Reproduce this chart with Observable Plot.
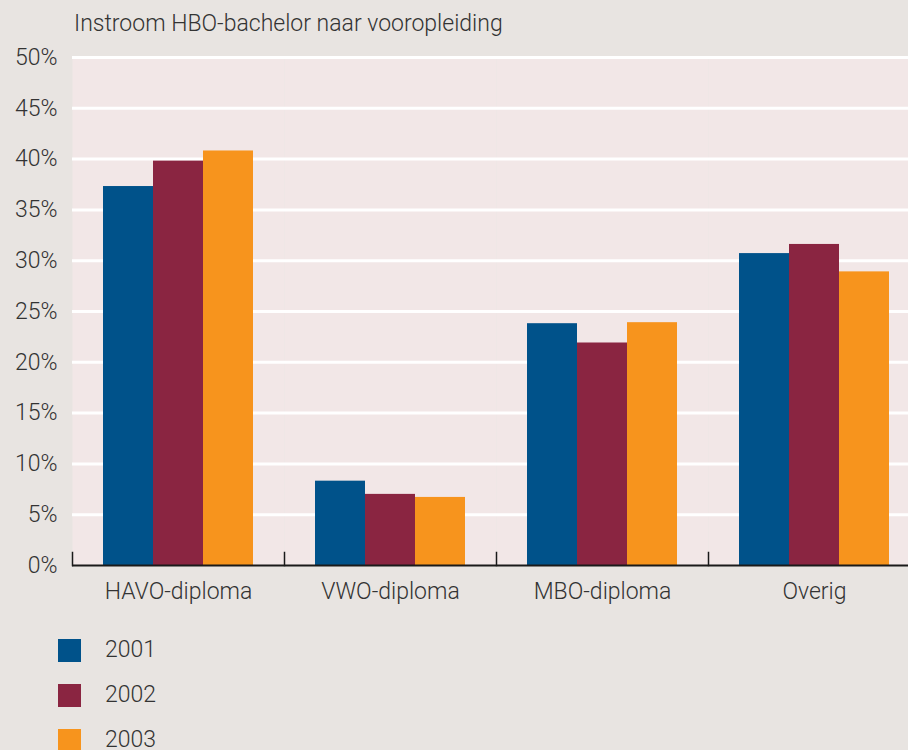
<!DOCTYPE html>
<html>
<head>
<meta charset="utf-8">
<script src="https://cdn.jsdelivr.net/npm/d3@7"></script>
<script src="https://cdn.jsdelivr.net/npm/@observablehq/plot@0.6"></script>
<style>
  html, body { margin: 0; padding: 0; background: #e8e4e1; overflow: hidden; width: 908px; height: 750px; }
  #wrap { position: relative; width: 908px; height: 750px; font-family: Roboto, "Noto Sans", sans-serif; font-weight: 300; color: #333; }
  #title { position: absolute; left: 74px; top: 12px; font-size: 23px; line-height: 23px; white-space: nowrap; }
  #chart { position: absolute; left: 0; top: 0; }
  #chart svg { max-width: none !important; }
  #legend { position: absolute; left: 58px; top: 639px; }
  .item { position: relative; height: 45px; }
  .sw { position: absolute; left: 0; top: 0; width: 23px; height: 23px; }
  .lab { position: absolute; left: 47px; top: -2px; font-size: 23px; line-height: 25px; }
</style>
</head>
<body>
<div id="wrap">
  <div id="title"></div>
  <div id="chart"></div>
  <div id="legend"></div>
</div>
<script>
const titleText = "Instroom HBO-bachelor naar vooropleiding";
const categories = ["HAVO-diploma", "VWO-diploma", "MBO-diploma", "Overig"];
const years = ["2001", "2002", "2003"];
const v2001 = [37.3, 8.3, 23.8, 30.7];
const v2002 = [39.8, 7.0, 21.9, 31.6];
const v2003 = [40.8, 6.7, 23.9, 28.9];
const colors = ["#00528a", "#8a2541", "#f7941d"];
const yTicks = [0, 5, 10, 15, 20, 25, 30, 35, 40, 45, 50];

const series = [v2001, v2002, v2003];
const rows = categories.flatMap((c, i) => years.map((y, j) => ({category: c, year: y, value: series[j][i]})));

document.getElementById("title").textContent = titleText;

const chart = Plot.plot({
  width: 920,
  height: 622,
  marginTop: 57,
  marginBottom: 57,
  marginLeft: 72,
  marginRight: 0,
  style: {background: "transparent", fontFamily: "Roboto, 'Noto Sans', sans-serif", fontWeight: 300, fontSize: "23px", color: "#333", maxWidth: "none"},
  fx: {domain: categories, padding: 0, round: false, label: null, axis: "bottom", tickSize: 0, tickPadding: 17},
  x: {domain: years, paddingInner: 0, paddingOuter: 0.62, round: false, axis: null},
  y: {domain: [0, 50], ticks: yTicks, tickFormat: d => d + "%", tickSize: 0, tickPadding: 15, label: null},
  color: {domain: years, range: colors},
  marks: [
    Plot.frame({fill: "#f2e7e7", stroke: "none"}),
    Plot.ruleY(yTicks.filter(d => d > 0), {stroke: "white", strokeWidth: 3}),
    Plot.barY(rows, {fx: "category", x: "year", y: "value", fill: "year"}),
    Plot.ruleY([0], {stroke: "#1a1a1a", strokeWidth: 2}),
    Plot.frame({anchor: "left", insetTop: 495, stroke: "#1a1a1a", strokeWidth: 1.5})
  ]
});
document.getElementById("chart").appendChild(chart);

const legend = document.getElementById("legend");
years.forEach((y, j) => {
  const item = document.createElement("div");
  item.className = "item";
  const sw = document.createElement("div");
  sw.className = "sw";
  sw.style.background = colors[j];
  const lab = document.createElement("div");
  lab.className = "lab";
  lab.textContent = y;
  item.appendChild(sw);
  item.appendChild(lab);
  legend.appendChild(item);
});
</script>
</body>
</html>
